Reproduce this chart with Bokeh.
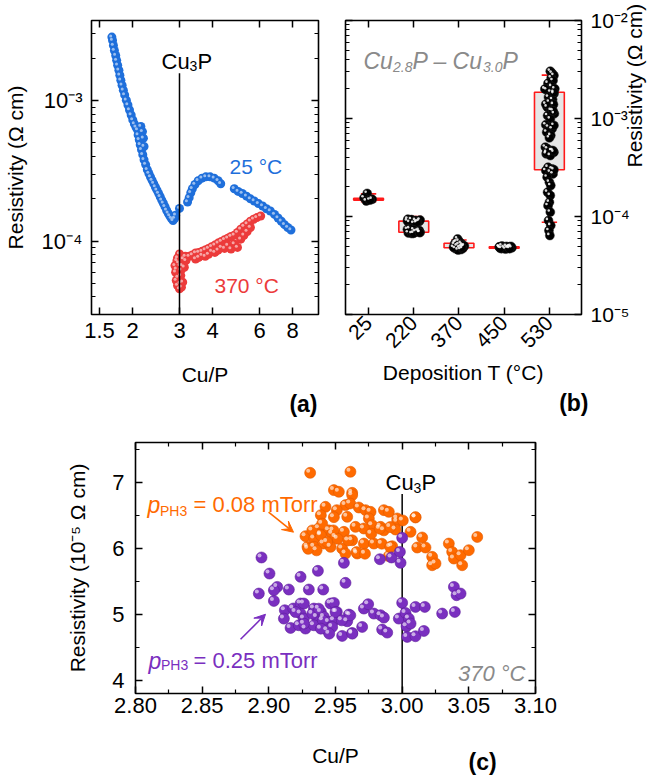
import math
from bokeh.plotting import figure
from bokeh.layouts import column, row
from bokeh.models import (LogAxis, LinearAxis, FixedTicker, Label, Arrow, VeeHead,
                          NumeralTickFormatter, Title)
from bokeh.embed import file_html
from bokeh.resources import INLINE

FONT = "Liberation Sans"
BLUE = "#1f6fdb"
RED = "#ec3b3b"
ORANGE = "#ff6a00"
PURPLE = "#7a2fc0"
GRAY = "#8a8a8a"

# ---------------- Panel (a) data ----------------
a_xticks = [1.5, 2, 3, 4, 6, 8]
a_yticks = [1e-4, 1e-3]

a25_cup = [1.670, 1.68, 1.693, 1.707, 1.727, 1.741, 1.756, 1.775, 1.790, 1.805,
           1.825, 1.845, 1.866, 1.893, 1.920, 1.946, 1.974, 2.002, 2.030, 2.059,
           2.087, 2.147, 2.097, 2.177, 2.117, 2.195, 2.135, 2.159, 2.207, 2.183,
           2.207, 2.238, 2.270, 2.302, 2.334, 2.367, 2.400, 2.434, 2.468, 2.503,
           2.538, 2.573, 2.609, 2.646, 2.683, 2.721, 2.759, 2.798, 2.837, 2.876,
           2.901, 3.0,
           3.217, 3.262, 3.308, 3.354, 3.430, 3.527, 3.647, 3.771, 3.911, 4.055, 4.193, 4.288,
           4.822, 4.987, 5.169, 5.361, 5.544, 5.732, 5.944, 6.163, 6.373, 6.590, 6.835, 7.047,
           7.247, 7.453, 7.663, 7.880]
a25_rho = [2.84e-3, 2.69e-3, 2.48e-3, 2.28e-3, 2.10e-3, 1.94e-3, 1.79e-3, 1.65e-3, 1.52e-3, 1.40e-3,
           1.29e-3, 1.19e-3, 1.10e-3, 1.01e-3, 0.932e-3, 0.859e-3, 0.792e-3, 0.730e-3, 0.684e-3, 0.648e-3,
           0.620e-3, 0.655e-3, 0.571e-3, 0.603e-3, 0.527e-3, 0.541e-3, 0.486e-3, 0.448e-3, 0.4725e-3, 0.413e-3,
           0.380e-3, 0.351e-3, 0.323e-3, 0.303e-3, 0.286e-3, 0.271e-3, 0.257e-3, 0.243e-3, 0.231e-3, 0.219e-3,
           0.207e-3, 0.196e-3, 0.186e-3, 0.176e-3, 0.166e-3, 0.158e-3, 0.151e-3, 0.145e-3, 0.140e-3, 0.145e-3,
           0.153e-3, 0.171e-3,
           0.190e-3, 0.204e-3, 0.221e-3, 0.236e-3, 0.253e-3, 0.269e-3, 0.281e-3, 0.287e-3, 0.287e-3, 0.281e-3,
           0.269e-3, 0.256e-3,
           0.236e-3, 0.226e-3, 0.2185e-3, 0.209e-3, 0.200e-3, 0.193e-3, 0.185e-3, 0.178e-3, 0.170e-3, 0.164e-3,
           0.155e-3, 0.146e-3, 0.1385e-3, 0.131e-3, 0.125e-3, 0.120e-3]

a370_cup = [2.901, 2.917, 2.950, 3.0, 3.051, 3.085, 2.885, 2.934, 3.0, 3.017,
            3.034, 3.068, 3.102, 3.154, 3.262, 3.354, 3.449, 3.547, 3.647, 3.750,
            3.856, 3.965, 4.077, 4.193, 4.311, 4.434, 4.559, 4.688, 4.822, 4.958,
            5.099, 5.242, 5.391, 5.544, 5.700, 5.862, 6.060,
            3.449, 3.750, 4.077, 4.434, 4.822, 4.958, 4.688, 5.099, 3.172, 3.128,
            2.92, 2.96, 3.02, 2.98, 3.04, 2.95,
            3.547, 3.647, 3.856, 3.965, 4.193, 4.311, 4.559, 5.242, 5.391, 5.544]
a370_rho = [0.0600e-3, 0.0524e-3, 0.0483e-3, 0.0457e-3, 0.0470e-3, 0.0510e-3, 0.0669e-3, 0.0726e-3, 0.0809e-3, 0.0669e-3,
            0.0568e-3, 0.0669e-3, 0.0746e-3, 0.0779e-3, 0.0779e-3, 0.0796e-3, 0.0823e-3, 0.0831e-3, 0.0845e-3, 0.0864e-3,
            0.0887e-3, 0.0912e-3, 0.0937e-3, 0.0968e-3, 0.0995e-3, 0.1022e-3, 0.1050e-3, 0.1079e-3, 0.1103e-3, 0.1151e-3,
            0.1216e-3, 0.1270e-3, 0.1326e-3, 0.1385e-3, 0.1431e-3, 0.1470e-3, 0.1511e-3,
            0.0746e-3, 0.0779e-3, 0.0831e-3, 0.0887e-3, 0.0953e-3, 0.0902e-3, 0.0878e-3, 0.1033e-3, 0.0726e-3, 0.0651e-3,
            0.063e-3, 0.055e-3, 0.050e-3, 0.070e-3, 0.062e-3, 0.076e-3,
            0.0765e-3, 0.0790e-3, 0.0805e-3, 0.0845e-3, 0.0862e-3, 0.0900e-3, 0.0930e-3, 0.1100e-3, 0.1170e-3, 0.1250e-3]

# ---------------- Panel (b) data ----------------
b_temps = ["25", "220", "370", "450", "530"]
b_q1 = [1.47e-4, 6.9e-5, 4.80e-5, 4.75e-5, 3.0e-4]
b_q3 = [1.53e-4, 8.96e-5, 5.34e-5, 4.90e-5, 1.85e-3]
b_lo = [1.42e-4, 6.4e-5, 4.5e-5, 4.65e-5, 8.75e-5]
b_hi = [1.70e-4, 1.0e-4, 5.75e-5, 5.05e-5, 2.77e-3]

b25_rho = [1.72e-4, 1.55e-4, 1.50e-4, 1.44e-4, 1.47e-4]
b25_dx = [-0.03, -0.10, 0.08, -0.05, 0.03]
b220_rho = [9.4e-5, 9.3e-5, 9.1e-5, 8.9e-5, 8.7e-5, 8.5e-5, 9.2e-5, 8.8e-5, 9.0e-5, 8.6e-5,
            7.5e-5, 7.3e-5, 7.1e-5, 6.9e-5, 6.8e-5, 6.7e-5, 7.2e-5, 7.0e-5, 6.75e-5, 7.4e-5, 6.85e-5]
b220_dx = [-0.13, -0.05, 0.04, 0.12, -0.09, 0.0, 0.14, 0.08, -0.14, 0.06,
           -0.09, 0.0, 0.09, 0.14, -0.12, -0.04, 0.12, 0.04, 0.0, -0.14, 0.13]
b370_rho = [5.9e-5, 5.6e-5, 5.4e-5, 5.3e-5, 5.2e-5, 5.1e-5, 5.0e-5, 4.9e-5, 4.8e-5, 4.7e-5,
            4.6e-5, 4.55e-5, 5.0e-5, 4.85e-5, 5.15e-5, 4.7e-5, 5.5e-5, 4.9e-5]
b370_dx = [-0.03, 0.0, -0.08, 0.05, -0.10, 0.08, -0.04, 0.10, 0.02, -0.08,
           0.04, -0.02, 0.12, -0.12, 0.00, 0.08, -0.05, 0.06]
b450_rho = [5.0e-5, 4.95e-5, 4.9e-5, 4.85e-5, 4.8e-5, 4.75e-5, 4.7e-5, 4.65e-5, 4.9e-5, 4.8e-5,
            4.85e-5, 4.75e-5, 4.95e-5, 4.7e-5]
b450_dx = [-0.05, 0.05, 0.12, -0.10, 0.0, 0.08, -0.06, 0.03, -0.11, 0.17, 0.10, -0.09, 0.15, 0.12]
b530_rho = [3.04e-3, 2.90e-3, 2.75e-3, 2.60e-3, 2.44e-3, 2.29e-3, 2.12e-3, 2.01e-3, 1.96e-3, 1.86e-3,
            1.79e-3, 1.65e-3, 1.56e-3, 1.47e-3, 1.39e-3, 1.31e-3, 1.21e-3, 1.12e-3, 1.07e-3, 0.99e-3,
            0.861e-3, 0.816e-3, 0.785e-3, 0.726e-3, 0.671e-3, 0.635e-3, 0.510e-3, 0.490e-3, 0.471e-3, 0.453e-3,
            0.436e-3, 0.419e-3, 0.318e-3, 0.306e-3, 0.294e-3, 0.283e-3, 0.272e-3, 0.252e-3, 0.224e-3, 0.207e-3,
            0.177e-3, 0.164e-3, 0.140e-3, 0.129e-3, 0.111e-3, 0.0910e-3, 0.0809e-3, 0.0719e-3, 0.0640e-3,
            0.47e-3, 0.45e-3, 0.30e-3, 0.85e-3, 1.85e-3, 2.0e-3, 1.2e-3, 1.4e-3]
b530_dx = [0.02, 0.06, 0.10, 0.04, 0.08, -0.03, 0.05, 0.12, -0.06, 0.03,
           0.10, -0.02, 0.07, 0.0, 0.09, -0.05, 0.04, 0.11, -0.04, 0.02,
           -0.08, -0.02, 0.06, -0.06, 0.03, 0.0, -0.09, -0.04, 0.05, 0.10,
           -0.07, 0.02, -0.03, 0.06, -0.08, 0.02, 0.08, -0.05, 0.0, 0.03,
           -0.04, 0.02, 0.0, -0.03, 0.02, -0.02, 0.03, -0.01, 0.01,
           0.08, -0.06, 0.10, 0.10, 0.10, -0.10, 0.08, -0.08]

# ---------------- Panel (c) data ----------------
c_xticks = [2.80, 2.85, 2.90, 2.95, 3.00, 3.05, 3.10]
c_yticks = [4, 5, 6, 7]
c_o_cup = [2.931, 2.9425, 2.939, 2.9275, 2.929, 2.934, 2.9375, 2.939, 2.934, 2.941, 2.945, 2.940,
           2.9612, 2.9488, 2.9525, 2.9625, 2.9625, 2.9575, 2.951, 2.9488, 2.9475, 2.95,
           2.9563, 2.9588, 2.961, 2.9675, 2.9725, 2.9763, 2.975, 2.9863, 2.99, 2.9963,
           2.9963, 3.01, 3.0063, 2.995, 2.9838, 2.9775, 2.9713, 2.965, 2.9625, 2.955,
           2.9463, 2.9713, 2.9788, 2.9663, 2.9575, 2.9925, 2.99, 2.9863, 3.015, 3.0113,
           3.0175, 3.0225, 3.0225, 3.025, 3.035, 3.0375, 3.0388, 3.0438, 3.045, 3.05, 3.0563,
           2.9326, 2.939, 2.9484, 2.9516, 2.9595, 2.9358, 2.9437, 2.9658, 2.9721, 2.9847, 2.991,
           2.9295, 2.991, 2.9768, 2.9832, 3.0005, 3.01]
c_o_rho = [7.141, 6.626, 6.50, 6.182, 6.02, 6.146, 6.30, 6.21, 6.02, 6.07, 6.27, 6.37,
           7.157, 6.879, 6.854, 6.838, 6.803, 6.652, 6.576, 6.47, 6.22, 6.17,
           6.247, 6.475, 6.677, 6.616, 6.576, 6.55, 6.45, 6.576, 6.55, 6.45,
           6.40, 6.465, 6.247, 6.283, 6.323, 6.348, 6.298, 6.323, 6.12, 5.995,
           6.02, 6.07, 6.07, 5.919, 5.919, 6.03, 5.88, 6.27, 6.162, 6.01,
           6.01, 5.869, 5.742, 5.768, 6.07, 5.944, 5.843, 5.894, 5.742, 5.97, 6.17,
           6.269, 6.194, 6.269, 6.143, 6.118, 5.967, 6.093, 5.941, 5.916, 6.068, 6.32,
           5.99, 6.017, 6.219, 6.295, 6.42, 6.47]

c_p_cup = [2.8945, 2.8925, 2.9005, 2.9063, 2.9038, 2.9038, 2.915, 2.9238, 2.93, 2.9368, 2.9408,
           2.912, 2.9113, 2.9163, 2.9183, 2.9238, 2.9263, 2.9238, 2.9263, 2.9225, 2.9275,
           2.9338, 2.936, 2.939, 2.9338, 2.9413, 2.9438, 2.945, 2.9463,
           3.0, 2.9563, 2.9575, 2.9833, 2.992, 2.9983, 2.9988, 2.9488, 2.951, 2.9488,
           2.9475, 2.955, 2.9625, 2.96, 2.9588, 2.97, 2.9713, 2.9745, 2.9788, 2.9838,
           2.9863, 2.985, 2.9888, 2.9975, 3.0, 3.0025, 3.005, 3.0033, 3.0038, 3.01,
           3.0163, 3.01, 3.017, 3.03, 3.0395, 3.0388, 3.0408, 3.0438, 3.0063,
           2.9326, 2.9374, 2.9405, 2.9453, 2.950, 2.9547, 2.9611, 2.9626, 2.920, 2.9263, 2.939]
c_p_rho = [5.859, 5.313, 5.616, 5.414, 5.364, 5.202, 5.374, 5.566, 5.374, 5.657, 5.374,
           5.061, 4.934, 4.793, 5.086, 5.162, 5.162, 5.01, 4.934, 4.833, 4.783,
           5.086, 4.96, 5.035, 4.833, 4.96, 4.758, 4.884, 5.162,
           6.157, 5.778, 5.475, 5.833, 5.859, 5.944, 5.778, 5.172, 5.035, 4.909,
           4.808, 4.672, 4.717, 4.995, 4.894, 4.808, 5.086, 5.152, 5.010, 4.985,
           4.949, 4.768, 4.722, 4.934, 5.172, 5.020, 4.934, 4.818, 4.657, 4.667,
           4.747, 5.111, 5.111, 5.010, 5.035, 5.414, 5.288, 5.313, 4.859,
           5.008, 5.084, 4.908, 4.706, 5.034, 4.908, 4.983, 4.706, 5.034, 4.857, 4.782]


# ---------------- helpers ----------------
TICK_FS = "22px"


def style_axis(ax, labels=True, size=TICK_FS):
    ax.axis_line_color = None
    ax.major_tick_in = 7
    ax.major_tick_out = 0
    ax.minor_tick_in = 4
    ax.minor_tick_out = 0
    ax.major_tick_line_width = 1.5
    ax.minor_tick_line_width = 1.2
    ax.major_tick_line_color = "black"
    ax.minor_tick_line_color = "black"
    ax.major_label_text_font = FONT
    ax.major_label_text_font_size = size
    ax.major_label_text_color = "black"
    ax.axis_label_text_font = FONT
    ax.axis_label_text_font_size = "21px"
    ax.axis_label_text_font_style = "normal"
    ax.axis_label_text_color = "black"
    if not labels:
        ax.major_label_text_font_size = "0px"
        ax.major_label_text_color = None
        ax.major_label_standoff = 0


def base_fig(p):
    p.grid.visible = False
    p.outline_line_color = "black"
    p.outline_line_width = 1.6
    p.background_fill_color = "white"
    p.border_fill_color = "white"


def lab(p, x, y, text, size=21, color="black", style="normal", align="left",
        baseline="alphabetic", angle=0.0):
    p.add_layout(Label(x=x, y=y, x_units="screen", y_units="screen", text=text,
                       text_font=FONT, text_font_size=f"{size}px", text_color=color,
                       text_font_style=style, text_align=align, text_baseline=baseline,
                       angle=angle))


def panel_title(p, text, offset):
    p.add_layout(Title(text=text, align="right", text_font=FONT, text_font_size="23px",
                       text_font_style="bold", text_color="black", standoff=0,
                       offset=offset), "below")


def log_minor(lo_exp, hi_exp):
    return [k * 10.0 ** e for e in range(lo_exp, hi_exp) for k in range(2, 10)]


# ---------------- Panel (a) ----------------
pa = figure(width=330, height=420, x_axis_type="log", y_axis_type="log",
            x_range=(1.4, 10.0), y_range=(3.0e-5, 3.73e-3),
            output_backend="svg", toolbar_location=None,
            min_border_left=82, min_border_right=12, min_border_top=20, min_border_bottom=104)
base_fig(pa)
ax_ticker = FixedTicker(ticks=a_xticks)
ay_ticker = FixedTicker(ticks=a_yticks, minor_ticks=log_minor(-5, -2))
xa = pa.xaxis[0]
xa.ticker = ax_ticker
xa.major_label_overrides = {t: f"{t:g}" for t in a_xticks}
style_axis(xa)
xa.major_label_standoff = 8
xa.axis_label = "Cu/P"
xa.axis_label_standoff = 22
ya = pa.yaxis[0]
ya.ticker = ay_ticker
ya.major_label_overrides = {1e-4: "10⁻⁴", 1e-3: "10⁻³"}
style_axis(ya)
ya.major_label_standoff = 9
ya.axis_label = "Resistivity (Ω cm)"
ya.axis_label_standoff = 12
for side, tk in (("above", ax_ticker), ("right", ay_ticker)):
    m = LogAxis(ticker=tk)
    style_axis(m, labels=False)
    pa.add_layout(m, side)
panel_title(pa, "(a)", 1)

fx = 10 ** (-1.2 / 275)
fy = 10 ** (1.2 / 141)
pa.scatter(a25_cup, a25_rho, size=9, fill_color=BLUE, line_color=None)
pa.scatter([v * fx for v in a25_cup], [v * fy for v in a25_rho], size=3,
           fill_color="white", fill_alpha=0.55, line_color=None)
pa.scatter(a370_cup, a370_rho, size=9, fill_color=RED, line_color=None)
pa.scatter([v * fx for v in a370_cup], [v * fy for v in a370_rho], size=3,
           fill_color="white", fill_alpha=0.55, line_color=None)
pa.segment(x0=[3.0], y0=[1e-5], x1=[3.0], y1=[1.57e-3], line_color="black", line_width=1.5)

lab(pa, 70, 253, "Cu", size=22)
lab(pa, 98, 249, "3", size=14)
lab(pa, 106, 253, "P", size=22)
lab(pa, 138, 148, "25 °C", size=21, color=BLUE)
lab(pa, 123, 29, "370 °C", size=21, color=RED)

# ---------------- Panel (b) ----------------
pb = figure(width=330, height=420, y_axis_type="log",
            x_range=(0.49, 5.71), y_range=(1e-5, 1e-2), y_axis_location="right",
            output_backend="svg", toolbar_location=None,
            min_border_left=15, min_border_right=79, min_border_top=20, min_border_bottom=106)
base_fig(pb)
b_pos = list(range(1, len(b_temps) + 1))
bx_ticker = FixedTicker(ticks=b_pos)
by_ticker = FixedTicker(ticks=[1e-5, 1e-4, 1e-3, 1e-2], minor_ticks=log_minor(-5, -2))
xb = pb.xaxis[0]
xb.ticker = bx_ticker
xb.major_label_overrides = {i: t for i, t in zip(b_pos, b_temps)}
style_axis(xb, size="21px")
xb.major_label_orientation = math.pi / 4
xb.major_label_standoff = 5
xb.axis_label = "Deposition T (°C)"
xb.axis_label_standoff = 4
yb = pb.yaxis[0]
yb.ticker = by_ticker
yb.major_label_overrides = {1e-5: "10⁻⁵", 1e-4: "10⁻⁴", 1e-3: "10⁻³", 1e-2: "10⁻²"}
style_axis(yb, size="21px")
yb.major_label_standoff = 9
yb.axis_label = "Resistivity (Ω cm)"
yb.axis_label_standoff = 2
yb.axis_label_orientation = math.pi / 2
for side, cls, tk in (("above", LinearAxis, bx_ticker), ("left", LogAxis, by_ticker)):
    m = cls(ticker=tk)
    style_axis(m, labels=False)
    pb.add_layout(m, side)
panel_title(pb, "(b)", -7)

hw = 0.33
cw = 0.17
pb.quad(left=[p - hw for p in b_pos], right=[p + hw for p in b_pos], bottom=b_q1, top=b_q3,
        fill_color="#e6e6e6", line_color="#ff1a1a", line_width=1.6)
pb.segment(x0=b_pos, y0=b_q3, x1=b_pos, y1=b_hi, line_color="#ff1a1a", line_width=1.2)
pb.segment(x0=b_pos, y0=b_q1, x1=b_pos, y1=b_lo, line_color="#ff1a1a", line_width=1.2)
pb.segment(x0=[p - cw for p in b_pos], y0=b_hi, x1=[p + cw for p in b_pos], y1=b_hi,
           line_color="#ff1a1a", line_width=1.6)
pb.segment(x0=[p - cw for p in b_pos], y0=b_lo, x1=[p + cw for p in b_pos], y1=b_lo,
           line_color="#ff1a1a", line_width=1.6)

bx, by = [], []
for pos, vals, dxs in zip(b_pos, [b25_rho, b220_rho, b370_rho, b450_rho, b530_rho],
                          [b25_dx, b220_dx, b370_dx, b450_dx, b530_dx]):
    for v, d in zip(vals, dxs):
        bx.append(pos + d)
        by.append(v)
pb.scatter(bx, by, size=9, fill_color="black", line_color="#222222", line_width=0.5)
hfy = 10 ** (1.6 / 98)
pb.scatter([v - 0.035 for v in bx], [v * hfy for v in by], size=2.6,
           fill_color="white", fill_alpha=0.85, line_color=None)

lab(pb, 18, 254, "Cu", size=23, color=GRAY, style="italic")
lab(pb, 47.5, 248, "2.8", size=14, color=GRAY, style="italic")
lab(pb, 67, 254, "P – Cu", size=23, color=GRAY, style="italic")
lab(pb, 137.5, 248, "3.0", size=14, color=GRAY, style="italic")
lab(pb, 157, 254, "P", size=23, color=GRAY, style="italic")

# ---------------- Panel (c) ----------------
pc = figure(width=660, height=355, x_range=(2.80, 3.10), y_range=(3.8, 7.6),
            output_backend="svg", toolbar_location=None,
            min_border_left=135, min_border_right=125, min_border_top=22, min_border_bottom=82)
base_fig(pc)
cx_ticker = FixedTicker(ticks=c_xticks,
                        minor_ticks=[2.825, 2.875, 2.925, 2.975, 3.025, 3.075])
cy_ticker = FixedTicker(ticks=c_yticks, minor_ticks=[4.5, 5.5, 6.5, 7.5])
xc = pc.xaxis[0]
xc.ticker = cx_ticker
xc.formatter = NumeralTickFormatter(format="0.00")
style_axis(xc)
xc.major_label_standoff = 4
yc = pc.yaxis[0]
yc.ticker = cy_ticker
style_axis(yc)
yc.major_label_standoff = 11
yc.axis_label = "Resistivity (10⁻⁵ Ω cm)"
yc.axis_label_standoff = 20
for side, tk in (("above", cx_ticker), ("right", cy_ticker)):
    m = LinearAxis(ticker=tk)
    style_axis(m, labels=False)
    pc.add_layout(m, side)

# second bottom axis: carries the "Cu/P" title and the "(c)" panel tag on one line
tag_x = 3.0603
ec = LinearAxis(ticker=FixedTicker(ticks=[tag_x]), major_label_overrides={tag_x: "(c)"})
style_axis(ec, size="23px")
ec.major_tick_line_color = None
ec.minor_tick_line_color = None
ec.major_label_text_font_style = "bold"
ec.major_label_standoff = 33
ec.axis_label = "Cu/P"
ec.axis_label_standoff = -34
pc.add_layout(ec, "below")

pc.segment(x0=[3.0], y0=[3.0], x1=[3.0], y1=[6.82], line_color="black", line_width=1.5)
dxh = -2.0 * 0.30 / 400
dyh = 2.0 / 66
pc.scatter(c_o_cup, c_o_rho, size=11, fill_color=ORANGE, line_color="#e05a00", line_width=0.6)
pc.scatter([v + dxh for v in c_o_cup], [v + dyh for v in c_o_rho], size=4,
           fill_color="white", fill_alpha=0.6, line_color=None)
pc.scatter(c_p_cup, c_p_rho, size=11, fill_color=PURPLE, line_color="#5e1f9a", line_width=0.6)
pc.scatter([v + dxh for v in c_p_cup], [v + dyh for v in c_p_rho], size=4,
           fill_color="white", fill_alpha=0.6, line_color=None)

pc.add_layout(Arrow(x_start=2.8998, y_start=6.545, x_end=2.9185, y_end=6.242,
                    line_color=ORANGE, line_width=1.6,
                    end=VeeHead(size=11, fill_color=ORANGE, line_color=ORANGE)))
pc.add_layout(Arrow(x_start=2.8788, y_start=4.621, x_end=2.8975, y_end=5.0,
                    line_color=PURPLE, line_width=1.6,
                    end=VeeHead(size=11, fill_color=PURPLE, line_color=PURPLE)))

lab(pc, 250, 211, "Cu", size=22)
lab(pc, 278, 206, "3", size=14)
lab(pc, 286, 211, "P", size=22)
lab(pc, 12, 189, "p", size=23, color=ORANGE, style="italic")
lab(pc, 24.5, 183, "PH3", size=14, color=ORANGE)
lab(pc, 58, 189, "= 0.08 mTorr", size=22, color=ORANGE)
lab(pc, 13, 33, "p", size=23, color=PURPLE, style="italic")
lab(pc, 25.5, 29, "PH3", size=14, color=PURPLE)
lab(pc, 58, 33, "= 0.25 mTorr", size=22, color=PURPLE)
lab(pc, 390, 20, "370 °C", size=22, color=GRAY, style="italic", align="right")

layout = column(row(pa, pb), pc)
open("out.html", "w").write(file_html(layout, INLINE))
